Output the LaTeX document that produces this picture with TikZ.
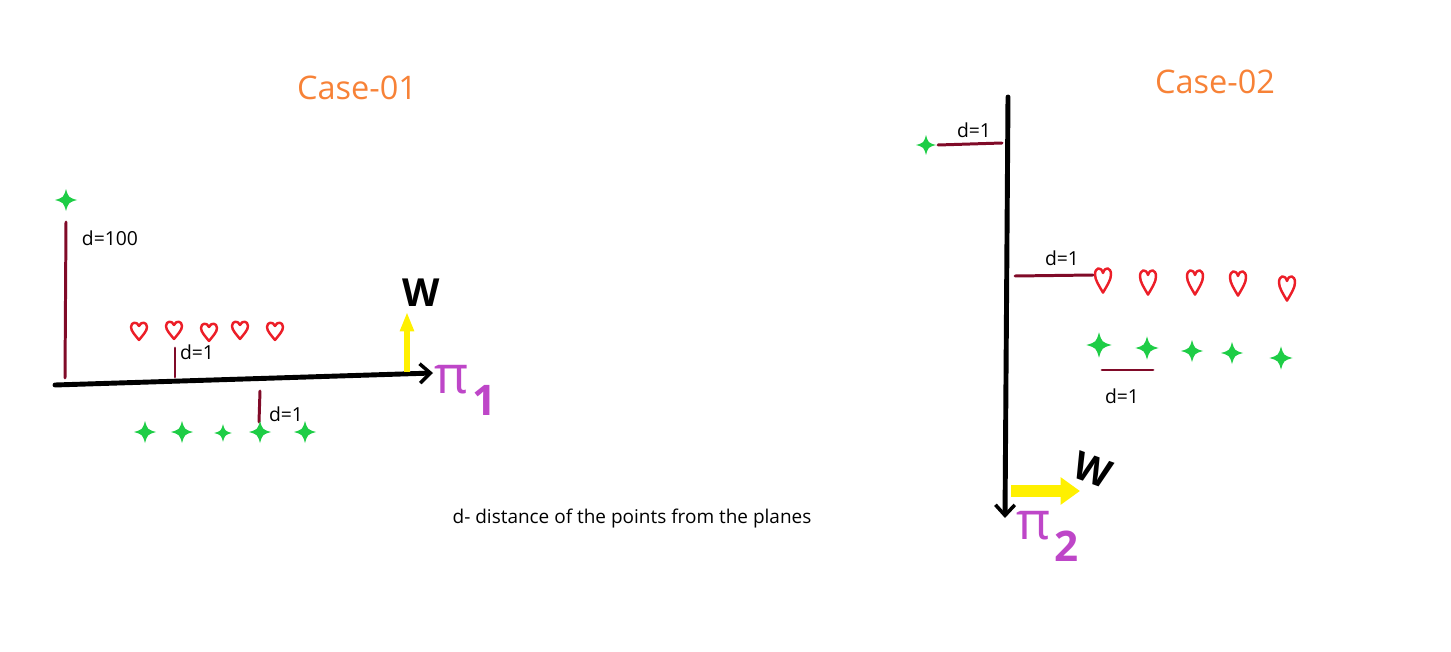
\documentclass[tikz,border=0pt]{standalone}
\usepackage{fontspec}
\setmainfont{Open Sans}
\usetikzlibrary{arrows.meta}
\definecolor{caseorange}{RGB}{247,130,55}
\definecolor{distred}{RGB}{128,10,40}
\definecolor{heartred}{RGB}{236,30,40}
\definecolor{sparkgreen}{RGB}{30,205,70}
\definecolor{planepink}{RGB}{190,70,200}
\definecolor{wyellow}{RGB}{255,240,0}
\tikzset{
  heart/.pic={
    \draw[heartline] (0,9) .. controls (-4,4) and (-8,0) .. (-8,-4) .. controls (-8,-9) and (-2,-10) .. (0,-5)
      .. controls (2,-10) and (8,-9) .. (8,-4) .. controls (8,0) and (4,4) .. (0,9) -- cycle;
  },
  sparkle/.pic={
    \fill[sparkgreen] (0,-11) .. controls (2.5,-2.5) .. (11,0) .. controls (2.5,2.5) .. (0,11)
      .. controls (-2.5,2.5) .. (-11,0) .. controls (-2.5,-2.5) .. (0,-11) -- cycle;
  }
}
\begin{document}
\begin{tikzpicture}[x=0.02cm, y=-0.02cm,
    plane/.style={line width=2.8pt, line cap=round, -{Straight Barb[length=6pt, width=11pt, line width=2pt]}},
    dist/.style={distred, line width=1.7pt, line cap=round},
    dlabel/.style={font=\fontsize{11pt}{13pt}\selectfont, inner sep=0pt},
    heartline/.style={heartred, line width=1.4pt, line join=round},
    caselabel/.style={caseorange, font=\fontsize{18.5pt}{22pt}\selectfont},
    wvec/.style={wyellow, line width=#1, -{Triangle[length=11pt, width=#1*2.2]}},
    wlabel/.style={font=\fontsize{22pt}{22pt}\selectfont\bfseries, inner sep=0pt},
    pilabel/.style={planepink, font=\fontsize{30pt}{30pt}\selectfont, inner sep=0pt}
  ]
  \useasboundingbox (0,0) rectangle (1451,652);

  \node[caselabel] (case1) at (357,88) {Case-01};
  \node[caselabel] (case2) at (1215,82) {Case-02};

  \coordinate (p1s) at (55,385);
  \coordinate (p1e) at (433,373);
  \draw[plane] (p1s) -- (p1e);
  \coordinate (w1s) at (407,372);
  \coordinate (w1e) at (407,312);
  \draw[wvec=3.4pt] (w1s) -- (w1e);
  \node[wlabel] (w1) at (421,293) {W};
  \node[pilabel, anchor=west] (pi1) at (434,390) {π\kern2pt\raisebox{-0.42em}{\fontsize{24pt}{24pt}\selectfont\bfseries 1}};

  \coordinate (a1) at (66,222);
  \coordinate (a2) at (65,378);
  \draw[dist] (a1) -- (a2);
  \node[dlabel] (d100) at (110,238) {d=100};
  \coordinate (b1) at (175,348);
  \coordinate (b2) at (175,377);
  \draw[dist] (b1) -- (b2);
  \node[dlabel] (d1a) at (197,352) {d=1};
  \coordinate (c1) at (260,391);
  \coordinate (c2) at (259,422);
  \draw[dist] (c1) -- (c2);
  \node[dlabel] (d1b) at (286,414) {d=1};

  \pic at (66,200) {sparkle};
  \foreach \sx/\sy/\ss in {145/432/1.0, 182/432/1.0, 223/433/0.8, 260/432/1.0, 305/432/1.0}
    \pic[scale=\ss] at (\sx,\sy) {sparkle};
  \foreach \hx/\hy in {139/331, 174/330, 209/332, 240/330, 275/331}
    \pic at (\hx,\hy) {heart};

  \node[dlabel, font=\fontsize{10.8pt}{13pt}\selectfont] (note) at (632,519) {d- distance of the points from the planes};

  \coordinate (p2s) at (1008,97);
  \coordinate (p2e) at (1005,518);
  \draw[plane] (p2s) -- (p2e);
  \coordinate (w2s) at (1011,491);
  \coordinate (w2e) at (1080,491);
  \draw[wvec=6.8pt] (w2s) -- (w2e);
  \node[wlabel, rotate=-20] (w2) at (1093,470) {W};
  \node[pilabel, anchor=west] (pi2) at (1016,536) {π\kern2pt\raisebox{-0.42em}{\fontsize{24pt}{24pt}\selectfont\bfseries 2}};

  \coordinate (e1) at (938,145);
  \coordinate (e2) at (1002,143);
  \draw[dist] (e1) -- (e2);
  \node[dlabel] (d1c) at (974,130) {d=1};
  \pic[scale=0.9] at (926,145) {sparkle};
  \coordinate (f1) at (1015,276);
  \coordinate (f2) at (1093,275);
  \draw[dist] (f1) -- (f2);
  \node[dlabel] (d1d) at (1062,258) {d=1};
  \coordinate (g1) at (1102,370);
  \coordinate (g2) at (1153,370);
  \draw[dist] (g1) -- (g2);
  \node[dlabel] (d1e) at (1122,396) {d=1};

  \foreach \hx/\hy in {1103/280, 1148/282, 1195/282, 1238/283, 1287/288}
    \pic[yscale=1.4] at (\hx,\hy) {heart};
  \foreach \sx/\sy/\ss in {1099/345/1.15, 1147/348/1.05, 1192/351/1.0, 1232/353/1.0, 1281/358/1.05}
    \pic[scale=\ss] at (\sx,\sy) {sparkle};
\end{tikzpicture}
\end{document}
